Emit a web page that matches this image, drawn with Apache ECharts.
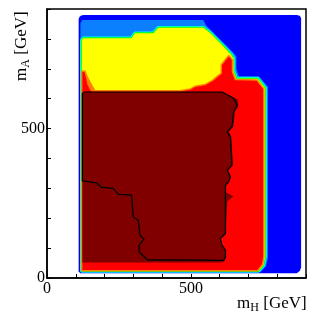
<!DOCTYPE html>
<html><head><meta charset="utf-8">
<script src="https://cdn.jsdelivr.net/npm/echarts@6/dist/echarts.min.js"></script>
<style>html,body{margin:0;padding:0;background:#fff}#c{width:315px;height:316px}</style>
</head><body><div id="c"></div>
<script>
// Axis ranges and labelled ticks (GeV)
const xRange = [0, 900];
const yRange = [0, 900];
const xTickLabels = [0, 500];
const yTickLabels = [0, 500];

// Region boundaries in (mH, mA) GeV
const outerBlue = [[110,22],[110,866],[113,874],[119,878],[128,880],[868,880],[878,877],[883,870],[883,36],[879,24],[868,16],[116,16]];
const lightBlue = [[116,22],[116,853],[123,863],[543,863],[553,845],[644,758],[658,741],[658,699],[667,674],[737,674],[768,640],[768,69],[761,39],[742,20],[119,20]];
const yellowZone = [[121,24],[121,796],[126,802],[294,802],[306,819],[370,819],[387,837],[543,837],[568,819],[614,774],[639,748],[648,734],[648,692],[658,667],[732,667],[758,635],[758,73],[752,43],[735,24]];
const orangeBlob = [[123,693],[133,694],[142,673],[156,648],[172,622],[123,622]];
const redZone = [[123,27],[123,689],[130,689],[136,668],[140,648],[150,628],[160,624],[463,624],[498,630],[515,639],[550,645],[578,660],[592,672],[608,684],[608,712],[620,727],[632,741],[642,729],[642,689],[653,662],[728,660],[751,632],[751,73],[747,47],[731,27]];
const maroonZone = [[123,52],[123,615],[128,620],[609,620],[627,609],[651,602],[663,597],[665,574],[653,557],[648,507],[632,490],[641,471],[646,378],[630,361],[639,337],[632,321],[622,307],[622,287],[648,273],[627,258],[620,150],[603,131],[608,110],[620,93],[620,69],[615,54],[602,52]];
const blackContour = [[123,325],[123,617],[128,622],[608,622],[649,601],[661,579],[649,556],[643,506],[626,489],[637,472],[643,378],[626,361],[637,338],[631,322],[620,311],[620,149],[602,132],[608,110],[620,93],[620,70],[614,59],[349,61],[320,87],[320,110],[337,130],[323,143],[317,193],[300,204],[294,277],[248,280],[230,300],[190,303],[172,318],[123,325]];

const chart = echarts.init(document.getElementById('c'), null, {renderer: 'canvas'});

function polySeries(pts, fill, stroke, lw) {
  return {
    type: 'custom', coordinateSystem: 'cartesian2d', silent: true, clip: true,
    data: [pts[0]],
    renderItem: (params, api) => ({
      type: 'polygon',
      shape: { points: pts.map(p => api.coord(p)) },
      style: { fill: fill, stroke: stroke || null, lineWidth: lw || 0, lineJoin: 'round' }
    })
  };
}

const serif = 'Liberation Serif';
const fmtX = v => xTickLabels.indexOf(v) >= 0 ? String(v) : '';
const fmtY = v => yTickLabels.indexOf(v) >= 0 ? String(v) : '';
const big = { font: '17px "Liberation Serif"', fill: '#000', textVerticalAlign: 'middle' };
const small = { font: '12px "Liberation Serif"', fill: '#000', textVerticalAlign: 'middle' };

chart.setOption({
  animation: false,
  grid: { left: 47, right: 9, top: 9, bottom: 38, show: true, borderColor: '#000', borderWidth: 1.5, backgroundColor: '#fff' },
  xAxis: {
    type: 'value', min: xRange[0], max: xRange[1], interval: 100,
    axisLine: { show: true, onZero: false, lineStyle: { color: '#000', width: 1.5 } },
    axisTick: { show: true, inside: true, length: 4, lineStyle: { color: '#000', width: 1 } },
    axisLabel: { formatter: fmtX, color: '#000', fontFamily: serif, fontSize: 16, margin: 3 },
    splitLine: { show: false }
  },
  yAxis: {
    type: 'value', min: yRange[0], max: yRange[1], interval: 100,
    axisLine: { show: true, onZero: false, lineStyle: { color: '#000', width: 1.5 } },
    axisTick: { show: true, inside: true, length: 4, lineStyle: { color: '#000', width: 1 } },
    axisLabel: { formatter: fmtY, color: '#000', fontFamily: serif, fontSize: 16, margin: 2 },
    splitLine: { show: false }
  },
  graphic: [
    { type: 'group', x: 237, y: 303.5, silent: true, children: [
      { type: 'text', x: 0, y: 0, style: Object.assign({ text: 'm' }, big) },
      { type: 'text', x: 13.3, y: 4, style: Object.assign({ text: 'H' }, small) },
      { type: 'text', x: 22, y: 0, style: Object.assign({ text: ' [GeV]' }, big) }
    ]},
    { type: 'group', x: 21.5, y: 81, rotation: Math.PI / 2, silent: true, children: [
      { type: 'text', x: 0, y: 0, style: Object.assign({ text: 'm' }, big) },
      { type: 'text', x: 13.3, y: 4, style: Object.assign({ text: 'A' }, small) },
      { type: 'text', x: 22, y: 0, style: Object.assign({ text: ' [GeV]' }, big) }
    ]}
  ],
  series: [
    polySeries(outerBlue, '#0000ff'),
    polySeries(lightBlue, '#0a80ff'),
    polySeries(yellowZone, '#00ffff', '#00ffff', 3.6),
    polySeries(yellowZone, '#00ff00', '#00ff00', 2),
    polySeries(yellowZone, '#ffff00'),
    polySeries(orangeBlob, '#ff8000'),
    polySeries(redZone, '#ff8000', '#ff8000', 3),
    polySeries(redZone, '#ff0000'),
    polySeries(maroonZone, '#800000'),
    polySeries(blackContour, 'none', '#000', 1.3)
  ]
});
</script>
</body></html>
